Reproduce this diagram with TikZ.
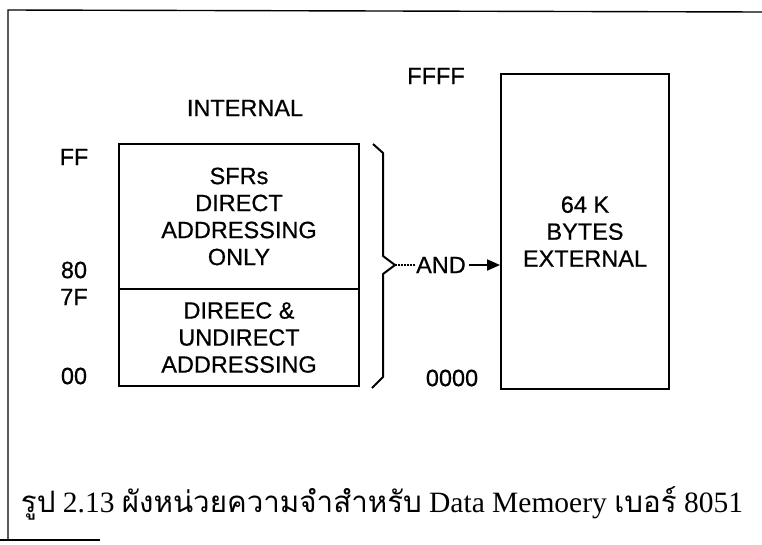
\documentclass[tikz,border=0pt]{standalone}
\usepackage{fontspec}
\setmainfont{Liberation Serif}
\setsansfont[FakeBold=0.6]{Liberation Sans}
\newfontfamily\thaifont[Script=Thai]{Loma}
\usetikzlibrary{arrows.meta}
\tikzset{
  lbl/.style={font=\sffamily\fontsize{23.5}{27}\selectfont, inner sep=0pt},
  mem/.style={draw, line width=2pt, anchor=north west, inner sep=0pt,
    align=center, font=\sffamily\fontsize{23.5}{27}\selectfont},
  frameline/.style={line width=1.4pt},
}
\begin{document}
\begin{tikzpicture}[x=1pt,y=-1pt]
\useasboundingbox (0,0) rectangle (762,544);
% frame
\draw[frameline] (762,12) -- (8,10) -- (8,540);
\draw[frameline] (0,540) -- (100,540);
% internal memory
\node[mem, minimum width=240pt, minimum height=145pt] (sfr) at (118,143)
  {SFRs\\DIRECT\\ADDRESSING\\ONLY};
\node[mem, minimum width=240pt, minimum height=97pt] (low) at (118,288)
  {DIREEC \&\\UNDIRECT\\ADDRESSING};
% external memory
\node[mem, minimum width=168pt, minimum height=315pt] (ext) at (500,73)
  {64 K\\BYTES\\EXTERNAL};
% labels
\node[lbl] (internal) at (245,108) {INTERNAL};
\node[lbl] (ffff) at (436,76) {FFFF};
\node[lbl] (ff) at (74,157) {FF};
\node[lbl] (l80) at (74,270) {80};
\node[lbl] (l7f) at (74,297) {7F};
\node[lbl] (l00) at (74,376) {00};
\node[lbl] (l0000) at (452,378) {0000};
% brace
\coordinate (tip) at (395,265);
\draw[line width=2pt, line join=round]
  (373,144) -- (383,153) -- (383,256) -- (tip) -- (383,274) -- (383,377) -- (372,388);
% AND connector
\node[lbl] (and) at (441,265) {AND};
\draw[line width=1.8pt, dash pattern=on 2pt off 1pt] (tip) -- (and.west);
\draw[line width=2pt, -{Triangle[length=13pt,width=11pt]}] ([xshift=3pt]and.east) -- (ext.west |- and.east);
% caption
\node[inner sep=0pt, font=\fontsize{29.5}{32}\selectfont] (cap) at (382,503)
  {{\thaifont รูป} 2.13 {\thaifont ผังหน่วยความจำสำหรับ} Data Memoery {\thaifont เบอร์} 8051};
\end{tikzpicture}
\end{document}
